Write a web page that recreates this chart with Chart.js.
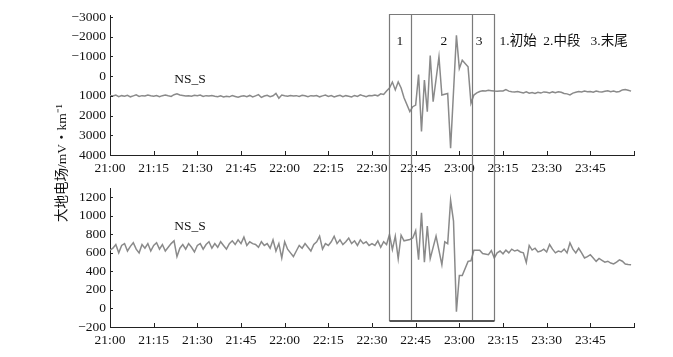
<!DOCTYPE html>
<html>
<head>
<meta charset="utf-8">
<script src="https://cdn.jsdelivr.net/npm/chart.js@4/dist/chart.umd.min.js"></script>
<style>
  html, body { margin: 0; padding: 0; background: #fff; }
  #wrap { position: relative; width: 673px; height: 357px; }
  canvas { position: absolute; left: 0; top: 0; }
</style>
</head>
<body>
<div id="wrap">
  <canvas id="topChart" width="673" height="357"></canvas>
  <canvas id="bottomChart" width="673" height="357"></canvas>
</div>
<script>
// --- data: one sample per minute from 21:00 (index = minutes after 21:00) ---
const topValues = [
  980, 1010, 960, 1040, 990, 1020, 970, 1050, 1000, 950, 1030, 990, 1010, 960, 1000,
  1020, 980, 1040, 990, 960, 1000, 1030, 940, 900, 960, 980, 1010, 990, 1020, 970,
  1000, 960, 1030, 990, 1010, 980, 1020, 1040, 1000, 1060, 1020, 1050, 990, 1030, 1070,
  1020, 1000, 1040, 980, 1060, 1000, 940, 1080, 1010, 970, 1040, 1000, 880, 1120, 960,
  1000, 1020, 980, 1010, 990, 1030, 970, 1000, 1040, 990, 1010, 980, 1050, 1000, 960,
  1030, 990, 1060, 1010, 970, 1040, 990, 1020, 1060, 980, 1030, 950, 1000, 1040, 980,
  1000, 960, 1000, 900, 930, 750, 600, 300, 700, 290, 600, 1100, null, 1800, 1550,
  1470, -80, 2800, 200, 1800, -1050, 1300, null, -980, 960, 920, 880, 3650, null, -2070,
  -390, -810, null, -470, 1380, 960, 850, 780, 740, 750, 720, 740, 760, 770, 750,
  750, 680, 760, 790, 800, 780, 820, 850, 800, 870, 830, 880, 820, 860, 800,
  820, 850, 800, 840, 790, 820, 880, 900, 950, 860, 820, 780, 800, 760, 790,
  780, 820, 760, 790, 800, 770, 740, 790, 760, 800, 780, 700, 680, 720, 760
];
const bottomValues = [
  630, 650, 690, 600, 680, 700, 620, 670, 710, 640, 600, 690, 650, 700, 620,
  680, 710, 640, 690, 620, 660, 700, 730, 560, 650, 690, 640, 700, 660, 610,
  680, 700, 640, 690, 720, 650, 700, 660, 720, 680, 640, 700, 730, 690, 740,
  700, 770, 680, 720, 700, 690, 660, 720, 680, 700, 650, 740, 620, 700, 545,
  720, 640, 600, 560, 620, 680, 650, 700, 660, 620, 690, 720, 780, 640, 700,
  680, 720, 780, 700, 740, 690, 720, 760, 700, 730, 680, 740, 700, 720, 680,
  700, 680, 730, 660, 720, 690, 798, 635, 780, 537, 790, 730, null, 744, 760,
  840, 527, 1033, 500, 888, 537, null, 780, null, 472, 719, 700, 1167, 942, -35,
  356, 356, null, 508, 515, 628, null, 628, 592, null, 580, 625, 545, 600, 620,
  590, 630, 600, 640, 620, 630, 610, 600, 497, 680, 630, 650, 610, 620, 640,
  610, 690, 640, 600, 620, 610, 640, 600, 708, 640, 600, 650, 600, 545, 560,
  580, 545, 508, 540, 520, 500, 510, 490, 480, 500, 525, 510, 480, 475, 472
];

const xTickValues = [0, 15, 30, 45, 60, 75, 90, 105, 120, 135, 150, 165, 180];
const xTickLabels = ['21:00', '21:15', '21:30', '21:45', '22:00', '22:15', '22:30',
  '22:45', '23:00', '23:15', '23:30', '23:45', ''];
const topTickValues = [-3000, -2000, -1000, 0, 1000, 2000, 3000, 4000];
const topTickLabels = ['\u22123000', '\u22122000', '\u22121000', '0', '1000', '2000', '3000', '4000'];
const bottomTickValues = [-200, 0, 200, 400, 600, 800, 1000, 1200];
const bottomTickLabels = ['\u2212200', '0', '200', '400', '600', '800', '1000', '1200'];

// phase boundaries (minutes after 21:00) and their names
const phaseEdges = [95.8, 103.4, 124.4, 131.9];
const phaseNumbers = ['1', '2', '3'];
const phaseNumberAt = [99.6, 114.7, 126.8];
const phaseLegend = '1.初始  2.中段   3.末尾';
const seriesName = 'NS_S';
const yTitle = '大地电场/mV・km⁻¹';

const FONT = '"Liberation Serif", "Times New Roman", "Noto Sans CJK SC", serif';
const FONT_SIZE = 13.5;
const AXIS = '#222';
const LINE = '#8a8a8a';

function toPoints(values) {
  return values.map((v, i) => ({ x: i, y: v }));
}

// small tick marks pointing into the plot
const innerTicks = {
  id: 'innerTicks',
  afterDraw(chart) {
    const { ctx, chartArea, scales: { x, y } } = chart;
    ctx.save();
    ctx.strokeStyle = AXIS;
    ctx.lineWidth = 1;
    ctx.beginPath();
    x.ticks.forEach(t => {
      const px = Math.round(x.getPixelForValue(t.value)) + 0.5;
      ctx.moveTo(px, chartArea.bottom);
      ctx.lineTo(px, chartArea.bottom - 4);
    });
    y.ticks.forEach(t => {
      const py = Math.round(y.getPixelForValue(t.value)) + 0.5;
      ctx.moveTo(chartArea.left, py);
      ctx.lineTo(chartArea.left + 3, py);
    });
    ctx.stroke();
    ctx.restore();
  }
};

const seriesLabel = {
  id: 'seriesLabel',
  afterDraw(chart, args, opts) {
    const { ctx, scales: { x, y } } = chart;
    ctx.save();
    ctx.font = FONT_SIZE + 'px ' + FONT;
    ctx.fillStyle = '#111';
    ctx.textAlign = 'center';
    ctx.textBaseline = 'middle';
    ctx.fillText(seriesName, x.getPixelForValue(27.5), y.getPixelForValue(opts.at));
    ctx.restore();
  }
};

// phase box, numbers, legend and the shared y title (drawn on the upper layer)
const phaseBox = {
  id: 'phaseBox',
  afterDraw(chart) {
    const { ctx, chartArea, scales: { x } } = chart;
    const xs = phaseEdges.map(t => Math.round(x.getPixelForValue(t)) + 0.5);
    const top = 14.5, bottom = chartArea.bottom - 6;
    ctx.save();
    ctx.strokeStyle = '#7a7a7a';
    ctx.lineWidth = 1.2;
    ctx.beginPath();
    ctx.moveTo(xs[0], bottom); ctx.lineTo(xs[0], top); ctx.lineTo(xs[3], top); ctx.lineTo(xs[3], bottom);
    ctx.moveTo(xs[1], top); ctx.lineTo(xs[1], bottom);
    ctx.moveTo(xs[2], top); ctx.lineTo(xs[2], bottom);
    ctx.stroke();
    ctx.strokeStyle = '#555';
    ctx.lineWidth = 2.2;
    ctx.beginPath();
    ctx.moveTo(xs[0], bottom); ctx.lineTo(xs[3], bottom);
    ctx.stroke();

    ctx.font = FONT_SIZE + 'px ' + FONT;
    ctx.fillStyle = '#111';
    ctx.textBaseline = 'middle';
    ctx.textAlign = 'center';
    phaseNumbers.forEach((n, i) => ctx.fillText(n, x.getPixelForValue(phaseNumberAt[i]), 41));
    ctx.textAlign = 'left';
    ctx.fillText(phaseLegend, xs[3] + 5, 41);

    ctx.translate(62, 163);
    ctx.rotate(-Math.PI / 2);
    ctx.textAlign = 'center';
    ctx.fillText(yTitle, 0, 0);
    ctx.restore();
  }
};

function xScale() {
  return {
    type: 'linear',
    min: 0,
    max: 180,
    afterBuildTicks: s => { s.ticks = xTickValues.map(v => ({ value: v })); },
    afterFit: s => { s.height = 24; },
    grid: { display: false, drawTicks: false },
    border: { display: true, color: AXIS, width: 1 },
    ticks: {
      autoSkip: false, maxRotation: 0, padding: 5, color: '#111',
      font: { family: FONT, size: FONT_SIZE },
      callback: (v, i) => xTickLabels[i]
    }
  };
}

function yScale(min, max, reverse, tickValues, tickLabels) {
  return {
    type: 'linear',
    min: min,
    max: max,
    reverse: reverse,
    afterBuildTicks: s => { s.ticks = tickValues.map(v => ({ value: v })); },
    afterFit: s => { s.width = 110; },
    grid: { display: false, drawTicks: false },
    border: { display: true, color: AXIS, width: 1 },
    ticks: {
      padding: 4, color: '#111',
      font: { family: FONT, size: FONT_SIZE },
      callback: (v, i) => tickLabels[i]
    }
  };
}

function makeChart(id, values, padding, y, labelAt, extraPlugins) {
  return new Chart(document.getElementById(id), {
    type: 'line',
    data: {
      datasets: [{
        data: toPoints(values),
        borderColor: LINE,
        borderWidth: 1.5,
        pointRadius: 0,
        tension: 0,
        spanGaps: true
      }]
    },
    options: {
      responsive: false,
      animation: false,
      devicePixelRatio: 1,
      layout: { padding: padding },
      scales: { x: xScale(), y: y },
      plugins: {
        legend: { display: false },
        tooltip: { enabled: false },
        seriesLabel: { at: labelAt }
      }
    },
    plugins: [innerTicks, seriesLabel].concat(extraPlugins)
  });
}

makeChart('topChart', topValues,
  { left: 0, right: 39, top: 15, bottom: 178 },
  yScale(-3100, 4000, true, topTickValues, topTickLabels), 150, []);

makeChart('bottomChart', bottomValues,
  { left: 0, right: 39, top: 188, bottom: 6 },
  yScale(-200, 1300, false, bottomTickValues, bottomTickLabels), 880, [phaseBox]);
</script>
</body>
</html>
